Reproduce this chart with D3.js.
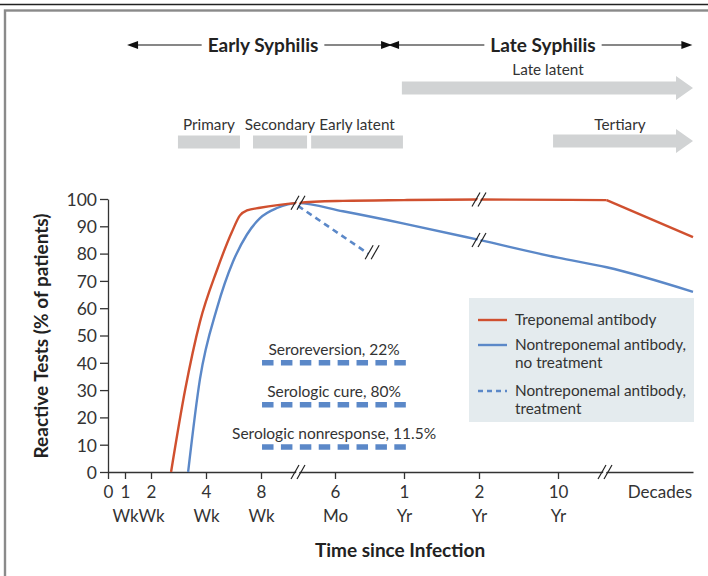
<!DOCTYPE html>
<html>
<head>
<meta charset="utf-8">
<script src="https://cdn.jsdelivr.net/npm/d3@7/dist/d3.min.js"></script>
<style>
  html, body { margin: 0; padding: 0; background: #fff; }
  svg { display: block; }
  text { font-family: Lato, "Open Sans", sans-serif; fill: #333; }
</style>
</head>
<body>
<svg id="chart" width="708" height="576"></svg>
<script>
// ---- Data (time in weeks since infection, values in % reactive) ----
const xTickWeeks = [0, 1, 2, 4, 8, 26, 52, 104, 520];
const xTickNumbers = ["0", "1", "2", "4", "8", "6", "1", "2", "10"];
const xTickUnits = ["", "Wk", "Wk", "Wk", "Wk", "Mo", "Yr", "Yr", "Yr"];
const yTicks = [0, 10, 20, 30, 40, 50, 60, 70, 80, 90, 100];

const treponemal = [
  [2.73, 0], [3.24, 30], [3.78, 55], [4.8, 74], [5.89, 88], [6.47, 94], [6.98, 95.8],
  [7.93, 96.8], [17, 98.6], [29, 99.3], [52, 99.6], [104, 99.8], [1270, 99.6], [2600, 86]
];
const nontrepNoTreatment = [
  [3.35, 0], [3.78, 34], [4.8, 60], [5.96, 77], [6.98, 87], [7.93, 93],
  [11.9, 96.7], [17, 98.5], [29, 95.5], [52, 91], [104, 85], [520, 78.5], [1270, 75], [2600, 66]
];
const nontrepTreatment = [[17, 97.5], [38.5, 80]];

const curveBreaks = [[17, 98.6], [40, 80.5], [104, 99.8], [104, 85]];
const axisBreaks = [17, 1244];

const outcomes = ["Seroreversion, 22%", "Serologic cure, 80%", "Serologic nonresponse, 11.5%"];
const outcomeLevels = [40, 24.6, 9.2];
const outcomeSpan = [8.25, 53.5];

const phases = ["Primary", "Secondary", "Early latent"];
const phaseStart = [2.98, 7.42, 20.2];
const phaseEnd = [6.47, 19.2, 51.6];
const lateArrows = ["Late latent", "Tertiary"];
const lateArrowStart = [51.2, 494];
const stageNames = ["Early Syphilis", "Late Syphilis"];
const stageStart = [1.08, 46];
const stageEnd = [47.5, 2590];

const legendLabels = [["Treponemal antibody"], ["Nontreponemal antibody,", "no treatment"], ["Nontreponemal antibody,", "treatment"]];

// ---- Styles ----
const RED = "#d0502f", BLUE = "#5b88c8", GRAY = "#d1d3d4", INK = "#333";

const svg = d3.select("#chart");

// frame
svg.append("line").attr("x1", 0).attr("x2", 708).attr("y1", 4.5).attr("y2", 4.5)
  .attr("stroke", "#222").attr("stroke-width", 1.6);
svg.append("rect").attr("x", 5).attr("y", 10.5).attr("width", 730).attr("height", 600)
  .attr("fill", "none").attr("stroke", "#8a8a8a").attr("stroke-width", 2.4);

// scales
const x = d3.scaleLinear()
  .domain([0, 1, 2, 4, 8, 26, 52, 104, 520, 2600])
  .range([108, 125, 151, 206, 261, 335, 404, 479, 558, 693]);
const y = d3.scaleLinear().domain([0, 100]).range([472, 199]);

// ---- Stage arrows ----
function arrowHead(x0, yy, dir) {
  svg.append("path")
    .attr("d", `M${x0},${yy} l${-dir * 11},-4 l0,8 z`)
    .attr("fill", "#111");
}
const stageY = 45;
stageNames.forEach((name, i) => {
  const x1 = x(stageStart[i]), x2 = x(stageEnd[i]);
  const cx = i === 0 ? 263 : 543;
  const t = svg.append("text").attr("x", cx).attr("y", stageY + 6.5)
    .attr("text-anchor", "middle").attr("font-size", 19).attr("font-weight", 700)
    .style("fill", "#222").text(name);
  const w = t.node().getComputedTextLength();
  svg.append("line").attr("x1", x1 + 4).attr("x2", cx - w / 2 - 6)
    .attr("y1", stageY).attr("y2", stageY).attr("stroke", "#111").attr("stroke-width", 1.2);
  svg.append("line").attr("x1", cx + w / 2 + 6).attr("x2", x2 - 4)
    .attr("y1", stageY).attr("y2", stageY).attr("stroke", "#111").attr("stroke-width", 1.2);
  arrowHead(x1, stageY, -1);
  arrowHead(x2, stageY, 1);
});

// ---- Late arrows ----
const lateY = [88, 141];
lateArrows.forEach((name, i) => {
  const x1 = x(lateArrowStart[i]), x2 = x(2600);
  const cy = lateY[i];
  svg.append("path")
    .attr("d", `M${x1},${cy - 6.5} L${x2 - 17},${cy - 6.5} L${x2 - 17},${cy - 12} L${x2},${cy} L${x2 - 17},${cy + 12} L${x2 - 17},${cy + 6.5} L${x1},${cy + 6.5} Z`)
    .attr("fill", GRAY);
  const tx = i === 0 ? 548 : 620;
  svg.append("text").attr("x", tx).attr("y", cy - (i === 0 ? 13 : 11))
    .attr("text-anchor", "middle").attr("font-size", 15.3).text(name);
});

// ---- Phase bars ----
phases.forEach((name, i) => {
  const x1 = x(phaseStart[i]), x2 = x(phaseEnd[i]);
  svg.append("rect").attr("x", x1).attr("y", 135.5).attr("width", x2 - x1).attr("height", 13)
    .attr("fill", GRAY);
  svg.append("text").attr("x", (x1 + x2) / 2).attr("y", 130)
    .attr("text-anchor", "middle").attr("font-size", 15.3).text(name);
});

// ---- Axes ----
const yAxis = d3.axisLeft(y).tickValues(yTicks).tickSize(8).tickSizeOuter(0).tickPadding(3);
const gy = svg.append("g").attr("transform", "translate(108,0)").call(yAxis);
gy.selectAll("text").attr("font-size", 17.5).style("fill", INK).attr("dy", "0.36em");
gy.selectAll("line, path").attr("stroke", INK).attr("stroke-width", 1.3);

const xAxis = d3.axisBottom(x).tickValues(xTickWeeks).tickSize(7).tickSizeOuter(0)
  .tickFormat((d, i) => xTickNumbers[i]);
const gx = svg.append("g").attr("transform", "translate(0,472)").call(xAxis);
gx.selectAll("line, path").attr("stroke", INK).attr("stroke-width", 1.3);
gx.selectAll("text").attr("font-size", 17).style("fill", INK).attr("y", 26).attr("dy", 0);
gx.selectAll(".tick").append("text")
  .attr("y", 50).attr("font-size", 17).attr("text-anchor", "middle")
  .style("fill", INK).text((d, i) => xTickUnits[i]);
svg.append("text").attr("x", 692).attr("y", 498)
  .attr("text-anchor", "end").attr("font-size", 17).text("Decades");

// axis titles
svg.append("text").attr("transform", "translate(48,336) rotate(-90)")
  .attr("text-anchor", "middle").attr("font-size", 19).attr("font-weight", 700)
  .style("fill", "#222").text("Reactive Tests (% of patients)");
svg.append("text").attr("x", 400).attr("y", 557)
  .attr("text-anchor", "middle").attr("font-size", 19).attr("font-weight", 700)
  .style("fill", "#222").text("Time since Infection");

// ---- Lines ----
const line = d3.line().x(d => x(d[0])).y(d => y(d[1])).curve(d3.curveMonotoneX);
const straight = d3.line().x(d => x(d[0])).y(d => y(d[1]));
svg.append("path").datum(nontrepTreatment).attr("d", straight)
  .attr("fill", "none").attr("stroke", BLUE).attr("stroke-width", 2.6).attr("stroke-dasharray", "6,4.5");
svg.append("path").datum(nontrepNoTreatment).attr("d", line)
  .attr("fill", "none").attr("stroke", BLUE).attr("stroke-width", 2.4);
// treponemal: smooth rise and plateau, straight decline after the plateau
const trepSmooth = treponemal.slice(0, treponemal.length - 1);
const trepTail = treponemal.slice(treponemal.length - 2);
svg.append("path").datum(trepSmooth).attr("d", line)
  .attr("fill", "none").attr("stroke", RED).attr("stroke-width", 2.4);
svg.append("path").datum(trepTail).attr("d", straight)
  .attr("fill", "none").attr("stroke", RED).attr("stroke-width", 2.4).attr("stroke-linejoin", "round");

// ---- Break marks ----
function breakMark(cx, cy) {
  const g = svg.append("g").attr("transform", `translate(${cx},${cy})`);
  g.append("path").attr("d", "M-5.5,7 L2.5,-7 L5.5,-7 L-2.5,7 Z").attr("fill", "#fff");
  [-3, 3].forEach(o => {
    g.append("line").attr("x1", o - 4).attr("y1", 7).attr("x2", o + 4).attr("y2", -7)
      .attr("stroke", "#222").attr("stroke-width", 1.2);
  });
}
curveBreaks.forEach(d => breakMark(x(d[0]), y(d[1])));
axisBreaks.forEach(w => breakMark(x(w), y(0)));

// ---- Outcome annotations ----
outcomes.forEach((name, i) => {
  const x1 = x(outcomeSpan[0]), x2 = x(outcomeSpan[1]);
  const yy = y(outcomeLevels[i]);
  svg.append("line").attr("x1", x1).attr("x2", x2).attr("y1", yy).attr("y2", yy)
    .attr("stroke", BLUE).attr("stroke-width", 5.5).attr("stroke-dasharray", "11.5,7.4");
  svg.append("text").attr("x", (x1 + x2) / 2).attr("y", yy - 8)
    .attr("text-anchor", "middle").attr("font-size", 15.5).text(name);
});

// ---- Legend ----
const lg = svg.append("g").attr("transform", "translate(469,298)");
lg.append("rect").attr("width", 225).attr("height", 124).attr("fill", "#e4ebee");
const legendY = [22, 47, 93];
const legendStyle = [[RED, null], [BLUE, null], [BLUE, "5,4"]];
legendLabels.forEach((lines, i) => {
  const yy = legendY[i];
  lg.append("line").attr("x1", 9).attr("x2", 38).attr("y1", yy).attr("y2", yy)
    .attr("stroke", legendStyle[i][0]).attr("stroke-width", 2.4)
    .attr("stroke-dasharray", legendStyle[i][1]);
  lines.forEach((t, j) => {
    lg.append("text").attr("x", 46).attr("y", yy + 5 + j * 18)
      .attr("font-size", 15.3).text(t);
  });
});
</script>
</body>
</html>
